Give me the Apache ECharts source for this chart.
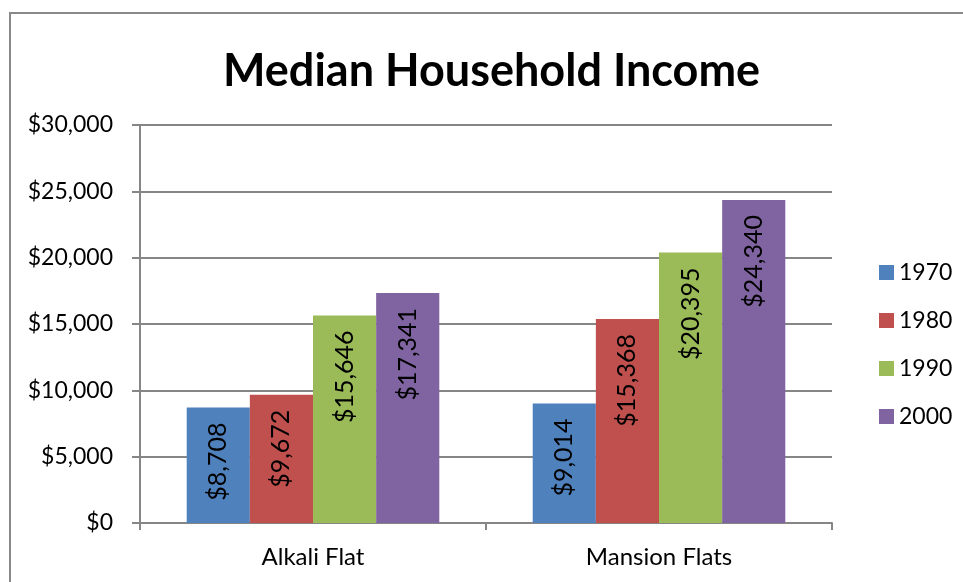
<!DOCTYPE html>
<html>
<head>
<meta charset="utf-8">
<script src="https://cdn.jsdelivr.net/npm/echarts@6/dist/echarts.min.js"></script>
<style>
  html, body { margin: 0; padding: 0; background: #fff; }
  #chart { width: 963px; height: 582px; }
</style>
</head>
<body>
<div id="chart"></div>
<script>
// 数据
const categories = ["Alkali Flat", "Mansion Flats"];
const years = ["1970", "1980", "1990", "2000"];
const income1970 = [8708, 9014];
const income1980 = [9672, 15368];
const income1990 = [15646, 20395];
const income2000 = [17341, 24340];
const yTicks = [0, 5000, 10000, 15000, 20000, 25000, 30000];

const colors = ["#4F81BD", "#C0504D", "#9BBB59", "#8064A2"];
const font = "Lato, 'Liberation Sans', sans-serif";

const money = (v) => "$" + Number(v).toLocaleString("en-US");

const myChart = echarts.init(document.getElementById("chart"));

const seriesData = [income1970, income1980, income1990, income2000];

const option = {
  animation: false,
  color: colors,
  title: {
    text: "Median Household Income",
    left: 218,
    top: 44,
    textStyle: {
      fontFamily: font,
      fontWeight: "bold",
      fontSize: 45,
      color: "#000",
    },
  },
  graphic: [
    {
      type: "rect",
      shape: { x: 10, y: 13, width: 1200, height: 1000 },
      style: { fill: "none", stroke: "#898989", lineWidth: 2 },
      silent: true,
    },
  ],
  legend: {
    orient: "vertical",
    left: 874,
    top: 256,
    icon: "rect",
    itemWidth: 15,
    itemHeight: 15,
    itemGap: 25,
    textStyle: { fontFamily: font, fontSize: 23, color: "#000" },
    data: years,
  },
  grid: {
    left: 140,
    right: 131,
    top: 125,
    bottom: 59,
    containLabel: false,
  },
  xAxis: {
    type: "category",
    data: categories,
    axisLine: { show: true, lineStyle: { color: "#868686", width: 2 } },
    axisTick: { show: true, length: 7, lineStyle: { color: "#868686", width: 2 } },
    axisLabel: {
      fontFamily: font,
      fontSize: 24,
      color: "#000",
      margin: 22,
    },
  },
  yAxis: {
    type: "value",
    min: yTicks[0],
    max: yTicks[yTicks.length - 1],
    interval: yTicks[1] - yTicks[0],
    axisLine: { show: true, lineStyle: { color: "#868686", width: 2 } },
    axisTick: { show: true, length: 8, lineStyle: { color: "#868686", width: 2 } },
    splitLine: { show: true, lineStyle: { color: "#868686", width: 2 } },
    axisLabel: {
      fontFamily: font,
      fontSize: 23,
      color: "#000",
      margin: 27,
      formatter: money,
    },
  },
  series: years.map((name, i) => ({
    name: name,
    type: "bar",
    data: seriesData[i],
    barGap: 0,
    barCategoryGap: "27%",
    itemStyle: { color: colors[i] },
    label: {
      show: true,
      position: "insideTop",
      distance: 15,
      rotate: 90,
      align: "right",
      verticalAlign: "middle",
      fontFamily: font,
      fontSize: 25,
      color: "#000",
      formatter: (p) => money(p.value),
    },
  })),
};

myChart.setOption(option);
</script>
</body>
</html>
